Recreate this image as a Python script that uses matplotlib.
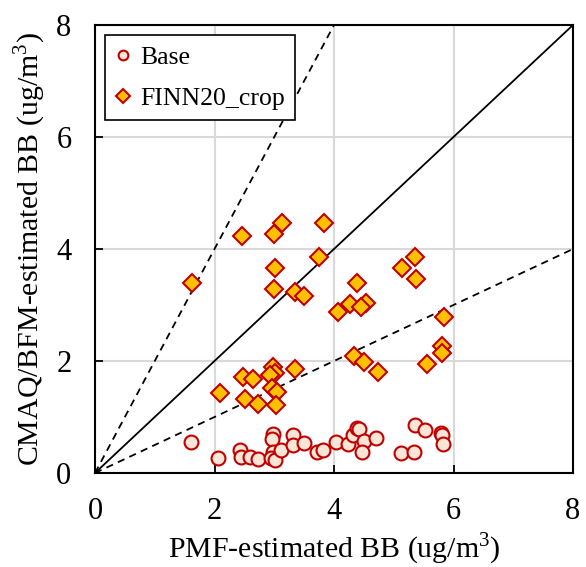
import matplotlib
matplotlib.use("Agg")
import matplotlib.pyplot as plt

plt.rcParams['font.family'] = ['Liberation Serif', 'DejaVu Serif']
plt.rcParams['mathtext.fontset'] = 'custom'
plt.rcParams['mathtext.rm'] = 'Liberation Serif'

# PMF-estimated vs CMAQ/BFM-estimated biomass burning (ug/m3)
base_x = [1.60, 2.06, 2.43, 2.45, 2.59, 2.72, 2.98, 2.97, 2.98, 2.95, 3.02, 3.11,
          3.32, 3.32, 3.49, 3.72, 3.81, 4.04, 4.24, 4.31, 4.38, 4.42, 4.50, 4.47,
          4.71, 5.12, 5.34, 5.36, 5.52, 5.79, 5.80, 5.82]
base_y = [0.55, 0.26, 0.41, 0.29, 0.29, 0.25, 0.70, 0.60, 0.38, 0.26, 0.24, 0.41,
          0.68, 0.50, 0.54, 0.38, 0.41, 0.55, 0.52, 0.68, 0.80, 0.79, 0.58, 0.37,
          0.62, 0.35, 0.38, 0.85, 0.76, 0.71, 0.67, 0.52]

finn_x = [1.63, 2.46, 3.00, 3.13, 3.83, 3.75, 3.02, 3.00, 3.35, 3.50,
          2.09, 2.48, 2.64, 2.51, 2.73, 2.98, 3.01, 2.93, 2.96, 3.05, 3.03, 3.35,
          5.36, 5.14, 5.38, 4.39, 4.26, 4.54, 4.45, 4.07,
          5.84, 5.81, 5.81, 4.33, 4.51, 5.55, 4.74]
finn_y = [3.40, 4.24, 4.27, 4.47, 4.47, 3.86, 3.66, 3.28, 3.23, 3.16,
          1.42, 1.72, 1.68, 1.33, 1.24, 1.90, 1.78, 1.75, 1.51, 1.45, 1.22, 1.86,
          3.86, 3.66, 3.46, 3.40, 3.02, 3.03, 2.96, 2.88,
          2.79, 2.27, 2.15, 2.09, 1.98, 1.95, 1.80]

ref_x = [0, 8]
ratios = [1.0, 2.0, 0.5]

fig = plt.figure(figsize=(5.86, 5.67), dpi=100)
ax = fig.add_axes([95 / 586, 94 / 567, 478 / 586, 448 / 567])

# reference lines: 1:1, 2:1 and 1:2
for r in ratios:
    ax.plot(ref_x, [v * r for v in ref_x], color='black', lw=1.3,
            ls='-' if r == 1.0 else (0, (4, 3)), zorder=2)

ax.plot(base_x, base_y, ls='none', marker='o', ms=10, mfc='#fbe5d6',
        mec='#c00000', mew=1.5, label='Base', zorder=3)
ax.plot(finn_x, finn_y, ls='none', marker='D', ms=9.5, mfc='#ffc000',
        mec='#c00000', mew=1.5, label='FINN20_crop', zorder=4)

ax.set_xlim(0, 8)
ax.set_ylim(0, 8)
ax.set_xticks([0, 2, 4, 6, 8])
ax.set_yticks([0, 2, 4, 6, 8])
ax.grid(True, color='#d9d9d9', lw=1.5, zorder=0)
ax.set_axisbelow(True)
ax.tick_params(direction='in', length=6, width=1.3, labelsize=22, pad=17)
for s in ax.spines.values():
    s.set_linewidth(1.5)

ax.set_xlabel('PMF-estimated BB (ug/m$^3$)', fontsize=21.5, labelpad=4)
ax.set_ylabel('CMAQ/BFM-estimated BB (ug/m$^3$)', fontsize=21.5, labelpad=6)

leg = ax.legend(loc='upper left', fontsize=18.5, frameon=True, fancybox=False,
                edgecolor='black', handlelength=0.6, handletextpad=0.35,
                borderpad=0.4, labelspacing=0.7, borderaxespad=0.4,
                markerscale=0.7)
leg.get_frame().set_linewidth(1.2)
leg.get_frame().set_alpha(1)

fig.savefig('out.png', dpi=100)
